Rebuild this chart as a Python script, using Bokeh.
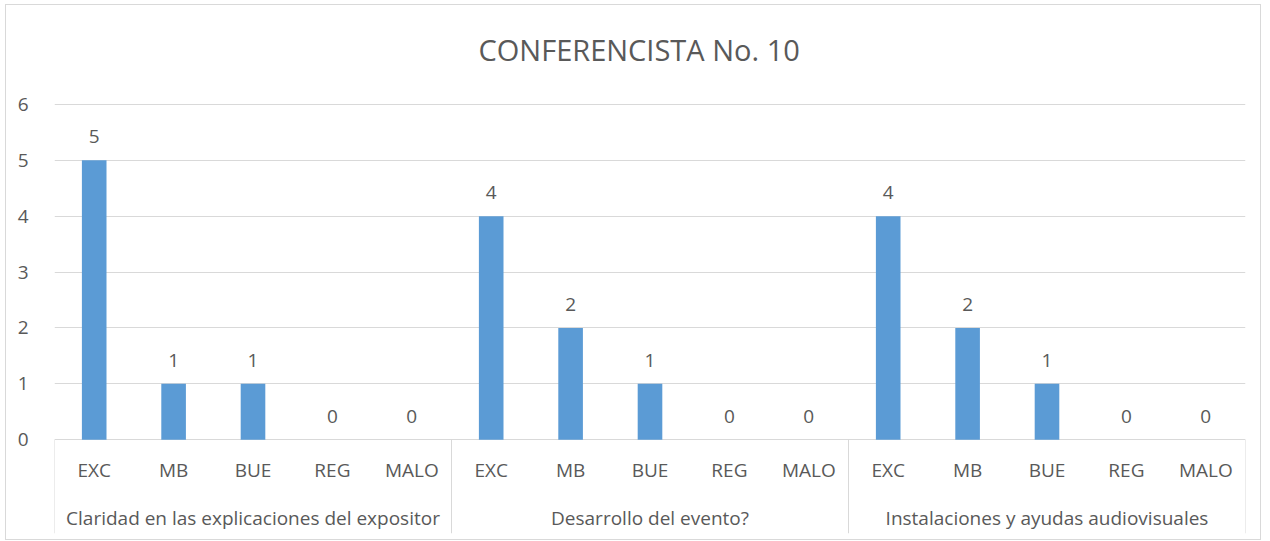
from bokeh.plotting import figure
from bokeh.models import Range1d, FixedTicker, ColumnDataSource
from bokeh.core.properties import value
from bokeh.embed import file_html
from bokeh.resources import INLINE

title = "CONFERENCISTA No. 10"
categories = ["EXC", "MB", "BUE", "REG", "MALO"]
groups = ["Claridad en las explicaciones del expositor",
          "Desarrollo del evento?",
          "Instalaciones y ayudas audiovisuales"]
claridad = [5, 1, 1, 0, 0]
desarrollo = [4, 2, 1, 0, 0]
instalaciones = [4, 2, 1, 0, 0]
y_ticks = [0, 1, 2, 3, 4, 5, 6]

series = [claridad, desarrollo, instalaciones]
n = len(categories)

xs, vals, cats = [], [], []
for gi, vs in enumerate(series):
    for ci, v in enumerate(vs):
        xs.append(gi * n + ci + 0.5)
        vals.append(v)
        cats.append(categories[ci])
src = ColumnDataSource(dict(x=xs, v=vals, cat=cats, lab=[str(v) for v in vals]))
gsrc = ColumnDataSource(dict(x=[gi * n + n / 2 for gi in range(len(groups))],
                             y=[0] * len(groups), g=groups))
bounds = [gi * n for gi in range(len(groups) + 1)]

FONT = "Open Sans"
TXT = "#595959"
GRID = "#d9d9d9"

ymax = max(y_ticks)
ymin_ext = -1.68
p = figure(width=1256, height=536, output_backend="svg", toolbar_location=None,
           x_range=Range1d(0, len(groups) * n),
           y_range=Range1d(ymin_ext, ymax + 0.232),
           min_border_left=48, min_border_right=17, min_border_top=85,
           min_border_bottom=8)
p.styles = {"border": "1px solid #d9d9d9", "margin-left": "5px", "margin-top": "4px"}
p.outline_line_color = None
p.title.text = title
p.title.align = "left"
p.title.text_font = FONT
p.title.text_font_size = "29px"
p.title.text_font_style = "normal"
p.title.text_color = TXT
p.title.standoff = 45
p.title.offset = 424

p.xaxis.visible = False
p.xgrid.visible = False
p.yaxis.ticker = FixedTicker(ticks=y_ticks)
p.yaxis.axis_line_color = None
p.yaxis.major_tick_line_color = None
p.yaxis.minor_tick_line_color = None
p.yaxis.major_label_text_font = FONT
p.yaxis.major_label_text_font_size = "19px"
p.yaxis.major_label_text_color = TXT
p.yaxis.major_label_standoff = 20
p.ygrid.grid_line_color = GRID
p.ygrid.grid_line_width = 1

p.vbar(x="x", top="v", bottom=0, width=0.31, source=src,
       fill_color="#5B9BD5", line_color=None)

p.text(x="x", y="v", text="lab", source=src, text_align="center",
       text_baseline="bottom", y_offset=-17, text_font=value(FONT),
       text_font_size="19px", text_color=TXT)
p.text(x="x", y=0, text="cat", source=src, text_align="center",
       text_baseline="middle", y_offset=30, text_font=value(FONT),
       text_font_size="19px", text_color=TXT)
p.text(x="x", y="y", text="g", source=gsrc, text_align="center",
       text_baseline="middle", y_offset=78, text_font=value(FONT),
       text_font_size="19px", text_color=TXT)
p.segment(x0=bounds, y0=[0] * len(bounds), x1=bounds, y1=[ymin_ext] * len(bounds),
          line_color=GRID, line_width=1)

open("out.html", "w").write(file_html(p, INLINE))
